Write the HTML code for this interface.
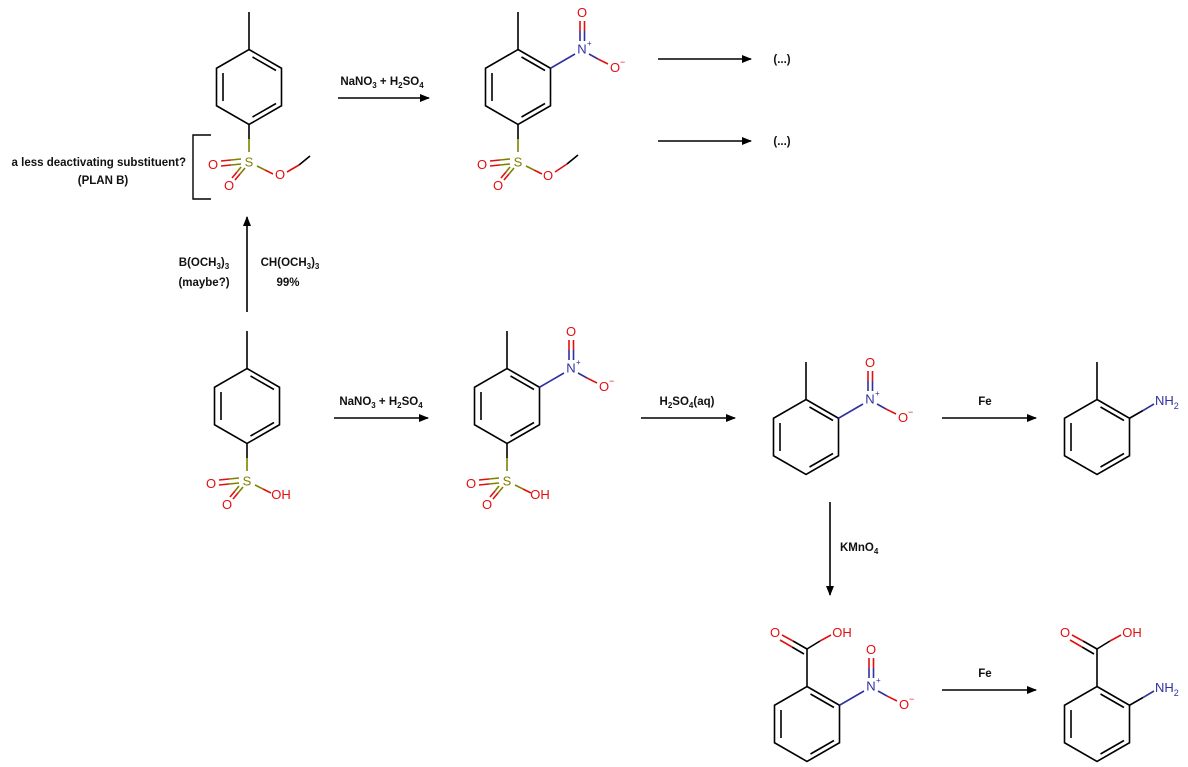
<!DOCTYPE html>
<html><head><meta charset="utf-8"><style>
html,body{margin:0;padding:0;background:#fff}
svg{display:block}
text{font-family:"Liberation Sans","DejaVu Sans",sans-serif}
.t{font-size:11.5px;font-weight:bold;fill:#111}
.a{font-size:13px}
.r{fill:#e01010}.n{fill:#3030a0}.s{fill:#808000}
</style></head><body>
<svg width="1188" height="767" viewBox="0 0 1188 767" xmlns="http://www.w3.org/2000/svg">
<defs>
<g id="ring" fill="none" stroke="#000" stroke-width="1.6">
<polygon points="0,-37.5 32.5,-18.75 32.5,18.75 0,37.5 -32.5,18.75 -32.5,-18.75"/>
<line x1="-26" y1="-14" x2="-26" y2="14"/>
<line x1="3.5" y1="-30" x2="27" y2="-16.5"/>
<line x1="3.5" y1="30" x2="27" y2="16.5"/>
</g>
<g id="meth"><line x1="0" y1="-37.5" x2="0" y2="-75" stroke="#000" stroke-width="1.6"/></g>
<g id="nitro" stroke-width="1.6">
<line x1="32.5" y1="-18.75" x2="57" y2="-33" stroke="#3030a0"/>
<line x1="62" y1="-46" x2="62" y2="-56" stroke="#3030a0"/><line x1="62" y1="-56" x2="62" y2="-66" stroke="#e01010"/>
<line x1="66.5" y1="-46" x2="66.5" y2="-56" stroke="#3030a0"/><line x1="66.5" y1="-56" x2="66.5" y2="-66" stroke="#e01010"/>
<line x1="71" y1="-33" x2="80" y2="-28" stroke="#3030a0"/><line x1="80" y1="-28" x2="90" y2="-23" stroke="#e01010"/>
<text x="64" y="-33.5" class="a n" text-anchor="middle">N</text><text x="69" y="-41" font-size="8" class="n">+</text>
<text x="64" y="-70" class="a r" text-anchor="middle">O</text>
<text x="97" y="-15" class="a r" text-anchor="middle">O</text><text x="102" y="-22" font-size="9" class="r">−</text>
</g>
<g id="sulf" stroke-width="1.6">
<line x1="0" y1="37.5" x2="0" y2="52" stroke="#000"/><line x1="0" y1="52" x2="0" y2="65" stroke="#808000"/>
<line x1="-8" y1="72" x2="-18" y2="73" stroke="#808000"/><line x1="-18" y1="73" x2="-28" y2="74" stroke="#e01010"/>
<line x1="-8" y1="77" x2="-18" y2="78" stroke="#808000"/><line x1="-18" y1="78" x2="-28" y2="79" stroke="#e01010"/>
<line x1="-4" y1="81" x2="-9" y2="87" stroke="#808000"/><line x1="-9" y1="87" x2="-14" y2="93" stroke="#e01010"/>
<line x1="-8" y1="80" x2="-12" y2="85" stroke="#808000"/><line x1="-12" y1="85" x2="-17" y2="91" stroke="#e01010"/>
<line x1="8" y1="79" x2="16" y2="83" stroke="#808000"/><line x1="16" y1="83" x2="24" y2="87" stroke="#e01010"/>
<text x="0" y="79.5" class="a s" text-anchor="middle">S</text>
<text x="-36" y="82" class="a r" text-anchor="middle">O</text>
<text x="-20" y="103" class="a r" text-anchor="middle">O</text>
</g>
<marker id="ah" markerWidth="10" markerHeight="8" refX="9" refY="4" orient="auto" markerUnits="userSpaceOnUse"><polygon points="0,0 10,4 0,8" fill="#000"/></marker>
</defs>

<g transform="translate(249,87)"><use href="#ring"/><use href="#meth"/><use href="#sulf"/>
<text x="31" y="92" class="a r" text-anchor="middle">O</text>
<line x1="38" y1="85" x2="50" y2="78" stroke="#e01010" stroke-width="1.6"/><line x1="50" y1="78" x2="61" y2="69" stroke="#000" stroke-width="1.6"/></g>
<g transform="translate(518,87)"><use href="#ring"/><use href="#meth"/><use href="#nitro"/><use href="#sulf"/>
<text x="30" y="93" class="a r" text-anchor="middle">O</text>
<line x1="37" y1="85" x2="49" y2="77" stroke="#e01010" stroke-width="1.6"/><line x1="49" y1="77" x2="60" y2="68" stroke="#000" stroke-width="1.6"/></g>
<g transform="translate(247,406)"><use href="#ring"/><use href="#meth"/><use href="#sulf"/>
<text x="34" y="93" class="a r" text-anchor="middle">OH</text></g>
<g transform="translate(507,406)"><use href="#ring"/><use href="#meth"/><use href="#nitro"/><use href="#sulf"/>
<text x="33" y="93" class="a r" text-anchor="middle">OH</text></g>
<g transform="translate(806,437)"><use href="#ring"/><use href="#meth"/><use href="#nitro"/></g>
<g transform="translate(1097,437)"><use href="#ring"/><use href="#meth"/>
<line x1="32.5" y1="-18.75" x2="46" y2="-26.5" stroke="#000" stroke-width="1.6"/><line x1="46" y1="-26.5" x2="57" y2="-33" stroke="#3030a0" stroke-width="1.6"/>
<text x="58" y="-32" class="a n">NH<tspan font-size="9" dy="4">2</tspan></text></g>
<g transform="translate(807,724)"><use href="#ring"/><use href="#nitro"/>
<line x1="0" y1="-37.5" x2="0" y2="-75" stroke="#000" stroke-width="1.6"/>
<line x1="0" y1="-75" x2="-14" y2="-83" stroke="#000" stroke-width="1.6"/><line x1="-14" y1="-83" x2="-25" y2="-89" stroke="#e01010" stroke-width="1.6"/>
<line x1="-3" y1="-70" x2="-15" y2="-77" stroke="#000" stroke-width="1.6"/><line x1="-15" y1="-77" x2="-27" y2="-84" stroke="#e01010" stroke-width="1.6"/>
<line x1="0" y1="-75" x2="13" y2="-83" stroke="#000" stroke-width="1.6"/><line x1="13" y1="-83" x2="24" y2="-89" stroke="#e01010" stroke-width="1.6"/>
<text x="-32" y="-87" class="a r" text-anchor="middle">O</text><text x="35" y="-87" class="a r" text-anchor="middle">OH</text></g>
<g transform="translate(1097,724)"><use href="#ring"/>
<line x1="0" y1="-37.5" x2="0" y2="-75" stroke="#000" stroke-width="1.6"/>
<line x1="0" y1="-75" x2="-14" y2="-83" stroke="#000" stroke-width="1.6"/><line x1="-14" y1="-83" x2="-25" y2="-89" stroke="#e01010" stroke-width="1.6"/>
<line x1="-3" y1="-70" x2="-15" y2="-77" stroke="#000" stroke-width="1.6"/><line x1="-15" y1="-77" x2="-27" y2="-84" stroke="#e01010" stroke-width="1.6"/>
<line x1="0" y1="-75" x2="13" y2="-83" stroke="#000" stroke-width="1.6"/><line x1="13" y1="-83" x2="24" y2="-89" stroke="#e01010" stroke-width="1.6"/>
<text x="-32" y="-87" class="a r" text-anchor="middle">O</text><text x="35" y="-87" class="a r" text-anchor="middle">OH</text>
<line x1="32.5" y1="-18.75" x2="46" y2="-26.5" stroke="#000" stroke-width="1.6"/><line x1="46" y1="-26.5" x2="57" y2="-33" stroke="#3030a0" stroke-width="1.6"/>
<text x="58" y="-32" class="a n">NH<tspan font-size="9" dy="4">2</tspan></text></g>

<polyline points="211,135 193,135 193,199 211,199" fill="none" stroke="#000" stroke-width="1.4"/>
<text x="186" y="166" class="t" text-anchor="end">a less deactivating substituent?</text>
<text x="103" y="184" class="t" text-anchor="middle">(PLAN B)</text>

<g stroke="#000" stroke-width="1.6" marker-end="url(#ah)">
<line x1="338" y1="98" x2="429" y2="98"/>
<line x1="658" y1="59" x2="751" y2="59"/>
<line x1="658" y1="141" x2="751" y2="141"/>
<line x1="247" y1="312" x2="247" y2="217"/>
<line x1="334" y1="418" x2="428" y2="418"/>
<line x1="641" y1="418" x2="735" y2="418"/>
<line x1="942" y1="418" x2="1036" y2="418"/>
<line x1="942" y1="690" x2="1036" y2="690"/>
<line x1="830" y1="502" x2="830" y2="595"/>
</g>
<text x="382" y="85" class="t" text-anchor="middle">NaNO<tspan font-size="8" dy="3">3</tspan><tspan dy="-3"> + H</tspan><tspan font-size="8" dy="3">2</tspan><tspan dy="-3">SO</tspan><tspan font-size="8" dy="3">4</tspan></text>
<text x="381" y="405" class="t" text-anchor="middle">NaNO<tspan font-size="8" dy="3">3</tspan><tspan dy="-3"> + H</tspan><tspan font-size="8" dy="3">2</tspan><tspan dy="-3">SO</tspan><tspan font-size="8" dy="3">4</tspan></text>
<text x="687" y="405" class="t" text-anchor="middle">H<tspan font-size="8" dy="3">2</tspan><tspan dy="-3">SO</tspan><tspan font-size="8" dy="3">4</tspan><tspan dy="-3">(aq)</tspan></text>
<text x="985" y="405" class="t" text-anchor="middle">Fe</text>
<text x="985" y="677" class="t" text-anchor="middle">Fe</text>
<text x="840" y="551" class="t">KMnO<tspan font-size="8" dy="3">4</tspan></text>
<text x="782" y="63" class="t" text-anchor="middle">(...)</text>
<text x="782" y="145" class="t" text-anchor="middle">(...)</text>
<text x="204" y="266" class="t" text-anchor="middle">B(OCH<tspan font-size="8" dy="3">3</tspan><tspan dy="-3">)</tspan><tspan font-size="8" dy="3">3</tspan></text>
<text x="204" y="286" class="t" text-anchor="middle">(maybe?)</text>
<text x="290" y="266" class="t" text-anchor="middle">CH(OCH<tspan font-size="8" dy="3">3</tspan><tspan dy="-3">)</tspan><tspan font-size="8" dy="3">3</tspan></text>
<text x="288" y="286" class="t" text-anchor="middle">99%</text>
</svg>
</body></html>
